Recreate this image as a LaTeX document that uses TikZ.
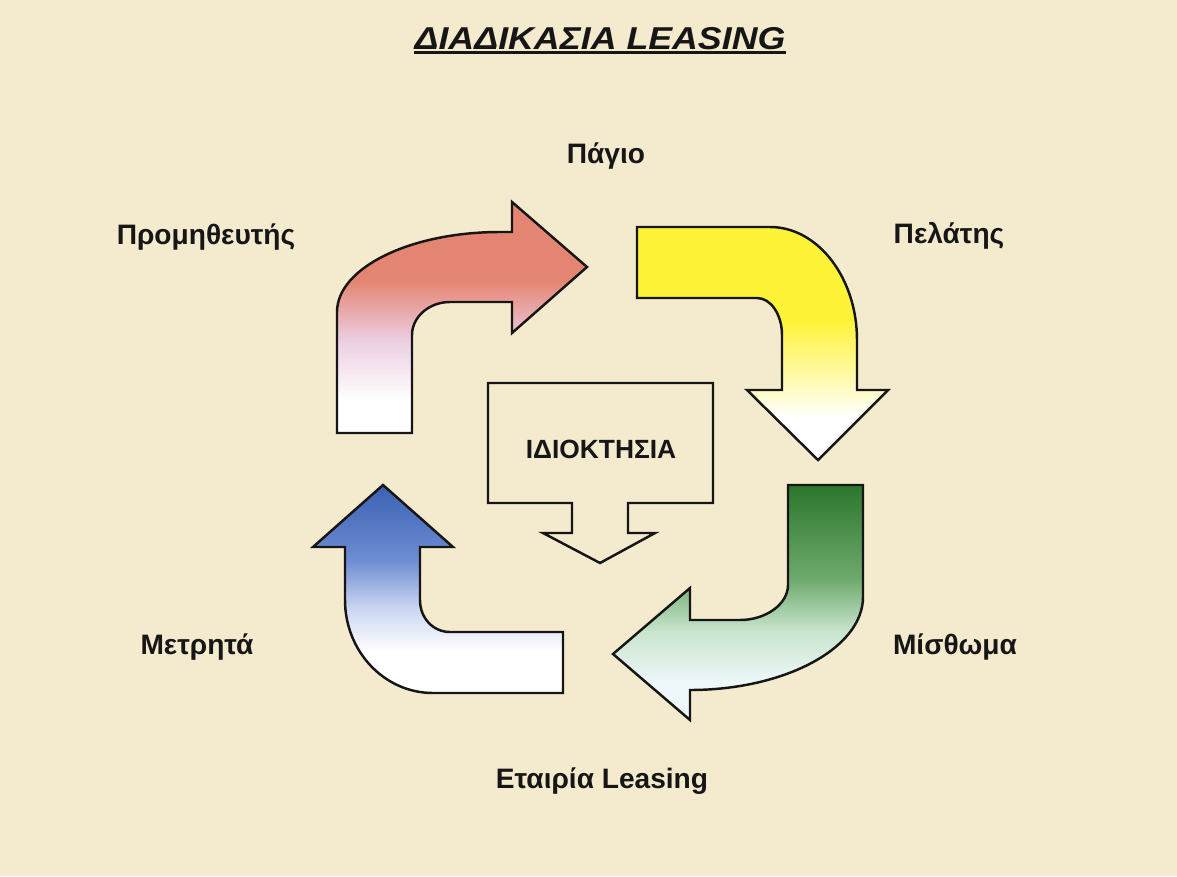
\documentclass[tikz,border=0pt]{standalone}
\usepackage{fontspec}
\setmainfont{Liberation Sans}

\definecolor{parchment}{RGB}{244,234,206}
\definecolor{ink}{RGB}{22,22,22}
\definecolor{salmon}{RGB}{228,132,114}
\definecolor{lilac}{RGB}{236,206,226}
\definecolor{lemon}{RGB}{255,243,55}
\definecolor{palelemon}{RGB}{255,250,170}
\definecolor{leaf}{RGB}{44,118,44}
\definecolor{midleaf}{RGB}{110,170,110}
\definecolor{paleleaf}{RGB}{200,228,205}
\definecolor{ice}{RGB}{238,248,250}
\definecolor{cobalt}{RGB}{58,98,178}
\definecolor{midblue}{RGB}{110,140,210}
\definecolor{paleblue}{RGB}{205,215,242}

% fades, bottom (25bp) to top (75bp) of each arrow
\pgfdeclareverticalshading{redfade}{100bp}{color(0bp)=(white); color(32bp)=(white); color(45bp)=(lilac); color(58bp)=(salmon); color(100bp)=(salmon)}
\pgfdeclareverticalshading{yellowfade}{100bp}{color(0bp)=(white); color(34bp)=(white); color(43bp)=(palelemon); color(55bp)=(lemon); color(100bp)=(lemon)}
\pgfdeclareverticalshading{greenfade}{100bp}{color(0bp)=(ice); color(33bp)=(ice); color(44bp)=(paleleaf); color(55bp)=(midleaf); color(75bp)=(leaf); color(100bp)=(leaf)}
\pgfdeclareverticalshading{bluefade}{100bp}{color(0bp)=(white); color(35bp)=(white); color(45bp)=(paleblue); color(57bp)=(midblue); color(75bp)=(cobalt); color(100bp)=(cobalt)}

\begin{document}
\begin{tikzpicture}[x=0.02cm,y=-0.02cm,
    every node/.style={font=\bfseries\fontsize{16}{19}\selectfont, text=ink, inner sep=0pt, anchor=base},
    arw/.style={draw=ink, line width=1.4pt, line join=miter}]

    % background
    \fill[parchment] (0,0) rectangle (1177,876);

    % title
    \node (title) at (600,49) {\fontsize{18}{22}\selectfont\scalebox{1.13}[1]{\itshape ΔΙΑΔΙΚΑΣΙΑ LEASING}};
    \draw[ink, line width=1.8pt] ([yshift=-2pt]title.base west) -- ([yshift=-2pt]title.base east);

    % labels
    \node (asset)	at (606,163) {Πάγιο};
    \node (supplier)	at (206,244) {Προμηθευτής};
    \node (client)	at (949,243) {Πελάτης};
    \node (cash)	at (197,654) {Μετρητά};
    \node (lease)	at (955,654) {Μίσθωμα};
    \node (company)	at (602,788) {Εταιρία Leasing};

    % red arrow: supplier -> asset
    \shadedraw[arw, shading=redfade]
      (337,433) -- (337,312) .. controls (337,268) and (410,232) .. (500,232)
      -- (512,232) -- (512,202) -- (587,267) -- (512,333) -- (512,302) -- (450,302)
      .. controls (429,302) and (412,317) .. (412,335) -- (412,433) -- cycle;

    % yellow arrow: asset -> client
    \shadedraw[arw, shading=yellowfade]
      (637,227) -- (770,227) .. controls (818,227) and (857,278) .. (857,340)
      -- (857,390) -- (888,390) -- (818,460) -- (747,390) -- (782,390) -- (782,335)
      .. controls (782,315) and (771,298) .. (757,298) -- (637,298) -- cycle;

    % green arrow: client -> company
    \shadedraw[arw, shading=greenfade]
      (788,485) -- (863,485) -- (863,597) .. controls (863,648) and (785,690) .. (690,690)
      -- (690,720) -- (613,654) -- (690,588) -- (690,620) -- (740,620)
      .. controls (766,620) and (788,604) .. (788,585) -- cycle;

    % blue arrow: company -> supplier
    \shadedraw[arw, shading=bluefade]
      (383,485) -- (453,547) -- (420,547) -- (420,600) .. controls (420,618) and (433,632) .. (450,632)
      -- (563,632) -- (563,693) -- (433,693) .. controls (384,693) and (345,651) .. (345,600)
      -- (345,547) -- (313,547) -- cycle;

    % ownership callout
    \draw[arw] (488,383) -- (713,383) -- (713,503) -- (628,503) -- (628,533) -- (655,533)
      -- (600,563) -- (543,533) -- (572,533) -- (572,503) -- (488,503) -- cycle;
    \node (owner) at (601,458) {\fontsize{15}{18}\selectfont ΙΔΙΟΚΤΗΣΙΑ};

\end{tikzpicture}
\end{document}
